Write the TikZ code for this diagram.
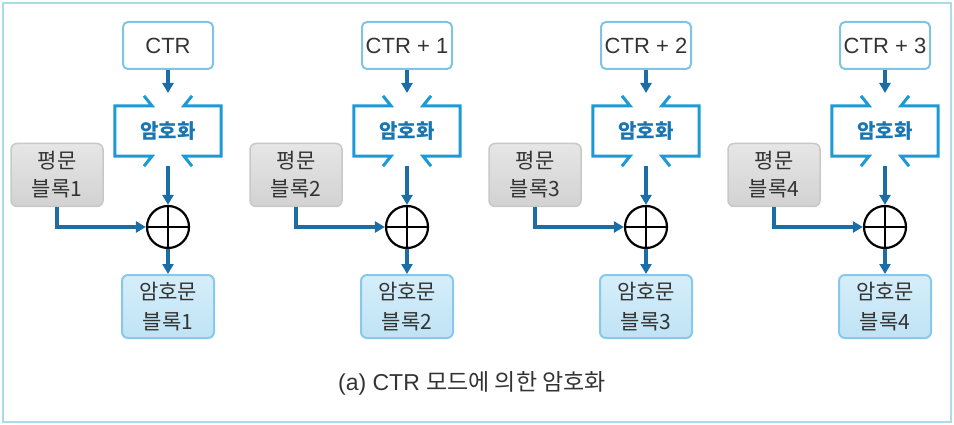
\documentclass[tikz,border=0pt]{standalone}
\usepackage{fontspec}
\setmainfont{Liberation Sans}
\newfontfamily\kr{Noto Sans CJK KR}
\usetikzlibrary{arrows.meta,calc}
\definecolor{framec}{HTML}{A9DBE9}
\definecolor{ctrc}{HTML}{7EC5E5}
\definecolor{encc}{HTML}{1C9AD6}
\definecolor{enct}{HTML}{1876B3}
\definecolor{arrc}{HTML}{1A6DA6}
\definecolor{txt}{HTML}{333333}
\definecolor{plaintop}{HTML}{E6E6E6}
\definecolor{plainbot}{HTML}{D2D2D2}
\definecolor{plainbd}{HTML}{C8C8C8}
\definecolor{ciphtop}{HTML}{D6EEFA}
\definecolor{ciphbot}{HTML}{BFE3F5}
\definecolor{ciphbd}{HTML}{86C9EA}
\tikzset{
  ctrbox/.style={draw=ctrc, line width=2pt, rounded corners=5pt, fill=white,
    minimum width=90, minimum height=47, inner sep=0pt, text=txt,
    font=\fontsize{22}{26}\selectfont},
  plainbox/.style={draw=plainbd, line width=1.5pt, rounded corners=6pt,
    top color=plaintop, bottom color=plainbot, minimum width=92, minimum height=63,
    inner sep=0pt, align=center, text=txt, font=\kr\fontsize{21}{28}\selectfont},
  cipherbox/.style={draw=ciphbd, line width=2pt, rounded corners=6pt,
    top color=ciphtop, bottom color=ciphbot, minimum width=92, minimum height=63,
    inner sep=0pt, align=center, text=txt, font=\kr\fontsize{21}{30}\selectfont},
  enctext/.style={minimum width=106, minimum height=50, inner sep=0pt, text=enct,
    font=\kr\bfseries\fontsize{20}{24}\selectfont},
  encline/.style={draw=encc, line width=3pt},
  xorc/.style={circle, draw=black, line width=2.2pt, minimum size=42, inner sep=0pt},
  arr/.style={draw=arrc, line width=3.5pt, -{Triangle[length=10pt,width=11pt]}},
}
\begin{document}
\begin{tikzpicture}[x=1pt,y=-1pt]
\useasboundingbox (0,0) rectangle (954,425);
\draw[framec, line width=2pt] (3,3) rectangle (951,422);
\foreach \i/\lab in {1/CTR, 2/CTR + 1, 3/CTR + 2, 4/CTR + 3}{
  \pgfmathsetmacro\cx{168+239*(\i-1)}
  \node[ctrbox] (ctr\i) at (\cx,45.5) {\lab};
  \node[enctext] (enc\i) at (\cx,131) {암호화};
  \node[xorc] (xor\i) at (\cx,227) {};
  \node[plainbox] (pl\i) at (\cx-111,175) {평문\\블록\i};
  \node[cipherbox] (ci\i) at (\cx,306.5) {암호문\\블록\i};
  \coordinate (in\i) at (\cx,93);
  \coordinate (out\i) at (\cx,166);
  \draw[encline] ($(enc\i.north)+(-24,-10)$) -- ($(enc\i.north)+(-16,0)$)
     -- (enc\i.north west) -- (enc\i.south west) -- ($(enc\i.south)+(-16,0)$)
     -- ($(enc\i.south)+(-24,10)$);
  \draw[encline] ($(enc\i.north)+(24,-10)$) -- ($(enc\i.north)+(16,0)$)
     -- (enc\i.north east) -- (enc\i.south east) -- ($(enc\i.south)+(16,0)$)
     -- ($(enc\i.south)+(24,10)$);
  \draw[black, line width=2.2pt] (xor\i.north) -- (xor\i.south) (xor\i.west) -- (xor\i.east);
  \draw[arr] (ctr\i) -- (in\i);
  \draw[arr] (out\i) -- (xor\i);
  \draw[arr] (pl\i.south) |- (xor\i.west);
  \draw[arr] (xor\i) -- (ci\i);
}
\node[text=txt, font=\fontsize{23}{27}\selectfont] (cap) at (472,383)
  {(a) CTR {\kr\fontsize{23}{27}\selectfont 모드에 의한 암호화}};
\end{tikzpicture}
\end{document}
